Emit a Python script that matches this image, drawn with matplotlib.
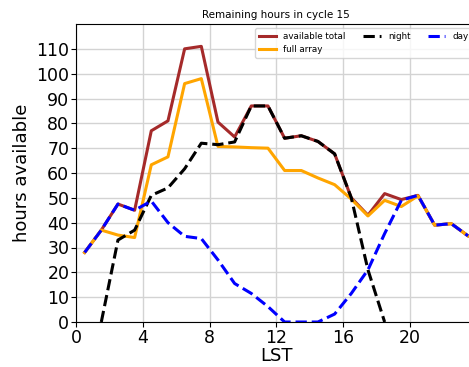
import numpy as np
import matplotlib.pyplot as plt

# heures LST (milieu de chaque heure)
lst = np.arange(0.5, 24, 1.0)

available_total = [28, 37, 47.5, 45, 77, 81, 110, 111, 80.5, 74.5, 87, 87,
                   74, 75, 72.7, 67.7, 50, 43, 51.7, 49.3, 51, 39, 39.6, 34.7]
full_array = [28, 37, 35, 34, 63.3, 66.5, 96, 98, 70.7, 70.5, 70.2, 70,
              61, 61, 58, 55.3, 49.5, 42.7, 49, 46.5, 50.8, 39, 39.6, 34.7]
night = [np.nan, 0, 33, 37, 51, 54, 61.7, 72, 71.4, 72.5, 87, 87,
         74, 75, 72.7, 67.7, 50, 21, 0, np.nan, np.nan, np.nan, np.nan, np.nan]
day = [28, 37, 47.5, 45, 48.7, 40, 34.5, 33.6, 25, 15.5, 11.5, 6.2,
       0, 0, 0, 3.2, 11.5, 21, 35.6, 49, 51, 39, 39.6, 34.7]

fig = plt.figure(figsize=(4.69, 3.67), dpi=100)
ax = fig.add_axes([76.3 / 469, 45 / 367, 400 / 469, 298 / 367])

ax.plot(lst, available_total, color='brown', lw=2.2, label='available total')
ax.plot(lst, full_array, color='orange', lw=2.2, label='full array')
ax.plot(lst, night, color='black', lw=2.2, ls='--', label='night')
ax.plot(lst, day, color='blue', lw=2.2, ls='--', label='day')

ax.set_xlim(0, 24)
ax.set_ylim(0, 120)
ax.set_xticks(range(0, 21, 4))
ax.set_yticks(range(0, 111, 10))
ax.tick_params(labelsize=12.5, pad=1.5)
ax.grid(True, color='lightgray', lw=1)
ax.set_axisbelow(True)

ax.set_xlabel('LST', fontsize=13, labelpad=0)
ax.set_ylabel('hours available', fontsize=13, labelpad=4)
ax.set_title('Remaining hours in cycle 15', fontsize=7.5, pad=4)
ax.legend(loc='upper right', ncol=3, fontsize=6.3)

fig.savefig('out.png', dpi=100)
